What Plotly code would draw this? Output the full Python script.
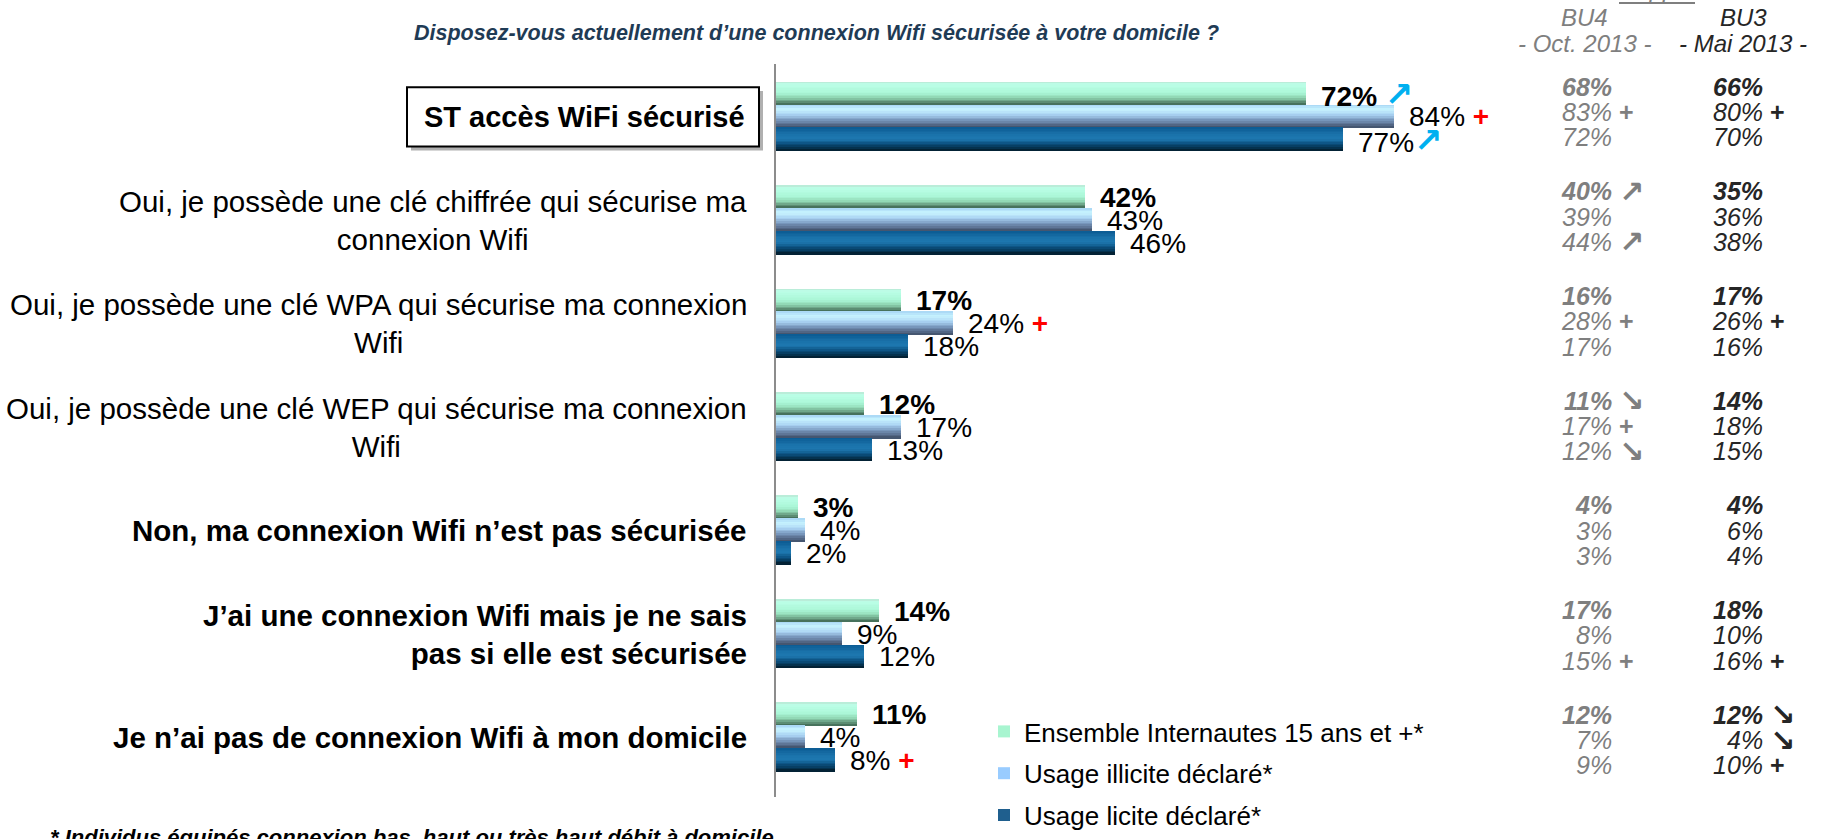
import plotly.graph_objects as go

W, H = 1825, 839

# ---------------- data ----------------
categories = [
    "ST accès WiFi sécurisé",
    "Oui, je possède une clé chiffrée qui sécurise ma<br>connexion Wifi",
    "Oui, je possède une clé WPA qui sécurise ma connexion<br>Wifi",
    "Oui, je possède une clé WEP qui sécurise ma connexion<br>Wifi",
    "Non, ma connexion Wifi n’est pas sécurisée",
    "J’ai une connexion Wifi mais je ne sais<br>pas si elle est sécurisée",
    "Je n’ai pas de connexion Wifi à mon domicile",
]
series_names = ["Ensemble Internautes 15 ans et +*", "Usage illicite déclaré*", "Usage licite déclaré*"]

ensemble = [72, 42, 17, 12, 3, 14, 11]
illicite = [84, 43, 24, 17, 4, 9, 4]
licite = [77, 46, 18, 13, 2, 12, 8]

sym_ensemble = ["↗", "", "", "", "", "", ""]
sym_illicite = ["+", "", "+", "", "", "", ""]
sym_licite = ["↗", "", "", "", "", "", "+"]

bu4_ensemble = [68, 40, 16, 11, 4, 17, 12]
bu4_illicite = [83, 39, 28, 17, 3, 8, 7]
bu4_licite = [72, 44, 17, 12, 3, 15, 9]
bu4_sym_ensemble = ["", "↗", "", "↘", "", "", ""]
bu4_sym_illicite = ["+", "", "+", "+", "", "", ""]
bu4_sym_licite = ["", "↗", "", "↘", "", "+", ""]

bu3_ensemble = [66, 35, 17, 14, 4, 18, 12]
bu3_illicite = [80, 36, 26, 18, 6, 10, 4]
bu3_licite = [70, 38, 16, 15, 4, 16, 10]
bu3_sym_ensemble = ["", "", "", "", "", "", "↘"]
bu3_sym_illicite = ["+", "", "+", "", "", "", "↘"]
bu3_sym_licite = ["", "", "", "", "", "+", "+"]

title_text = "Disposez-vous actuellement d’une connexion Wifi sécurisée à votre domicile ?"
footnote_text = "* Individus équipés connexion bas, haut ou très haut débit à domicile"
bu4_header = ["BU4", "- Oct. 2013 -"]
bu3_header = ["BU3", "- Mai 2013 -"]
rappel_text = "Rappel"

# ---------------- styles ----------------
FONT = "Liberation Sans, Arial, sans-serif"
label_bold = [True, False, False, False, True, True, True]
label_align = ["center", "center", "center", "center", "right", "right", "right"]
legend_colors = ["#A8F5D0", "#99CCFF", "#1F5F8E"]
gradients = [
    [(0.0, "#b9e6d2"), (0.12, "#bcffe8"), (0.5, "#aaf6d6"), (0.7, "#8fd6b2"), (0.86, "#669a7e"), (1.0, "#3d6450")],
    [(0.0, "#a6d4f4"), (0.2, "#c8f4ff"), (0.45, "#a9d2f2"), (0.65, "#7c9cc2"), (0.85, "#5a7090"), (1.0, "#3e4e66")],
    [(0.0, "#0b5a92"), (0.3, "#1a72aa"), (0.5, "#1e78b0"), (0.7, "#0c5282"), (0.86, "#06395a"), (1.0, "#021a28")],
]
sym_colors_bar = {"↗": "#00B0F0", "+": "#FF0000", "↘": "#00B0F0"}


def px(x):
    return x / W


def py(y):
    return 1 - y / H


def hex2rgb(h):
    h = h.lstrip("#")
    return tuple(int(h[i:i + 2], 16) for i in (0, 2, 4))


def interp(stops, t):
    for (t0, c0), (t1, c1) in zip(stops[:-1], stops[1:]):
        if t0 <= t <= t1:
            f = (t - t0) / (t1 - t0) if t1 > t0 else 0
            a, b = hex2rgb(c0), hex2rgb(c1)
            r = [round(a[k] + (b[k] - a[k]) * f) for k in range(3)]
            return "rgb(%d,%d,%d)" % tuple(r)
    return stops[-1][1]


values = [ensemble, illicite, licite]
bar_syms = [sym_ensemble, sym_illicite, sym_licite]
ypos = list(range(len(categories)))

BAR_H = 0.2213
N_STRIPES = 14

fig = go.Figure()
for s, vals in enumerate(values):
    start = -1.5 * BAR_H + s * BAR_H
    fig.add_trace(go.Bar(
        x=vals, y=ypos, orientation="h", name=series_names[s],
        offset=start, width=BAR_H, marker=dict(color=legend_colors[s], line=dict(width=0)),
        legendgroup=str(s), showlegend=True, hoverinfo="skip",
    ))
    for k in range(N_STRIPES):
        t = (k + 0.5) / N_STRIPES
        fig.add_trace(go.Bar(
            x=vals, y=ypos, orientation="h",
            offset=start + k * BAR_H / N_STRIPES, width=BAR_H / N_STRIPES + 0.002,
            marker=dict(color=interp(gradients[s], t), line=dict(width=0)),
            legendgroup=str(s), showlegend=False, hoverinfo="skip",
        ))

annotations = []

# bar value labels
for s, vals in enumerate(values):
    start = -1.5 * BAR_H + s * BAR_H
    for i, v in enumerate(vals):
        txt = ("<b>%d%%</b>" % v) if s == 0 else ("%d%%" % v)
        sym = bar_syms[s][i]
        if sym:
            sp = "" if (s == 2 and sym == "↗") else " "
            if sym == "+":
                txt += sp + "<span style='color:%s;font-weight:bold'>+</span>" % sym_colors_bar[sym]
            else:
                txt += sp + ("<span style='color:%s;font-family:DejaVu Sans;font-weight:bold;"
                             "font-size:34px'>%s</span>") % (sym_colors_bar[sym], sym)
        annotations.append(dict(
            x=v, y=i + start + BAR_H / 2, xref="x", yref="y", text=txt, showarrow=False,
            xanchor="left", yanchor="middle", xshift=13,
            font=dict(family=FONT, size=28, color="#000000"),
        ))

# category labels
for i, cat in enumerate(categories):
    if i == 0:
        annotations.append(dict(
            x=px(584), y=i, xref="paper", yref="y", text="<b>%s</b>" % cat, showarrow=False,
            xanchor="center", yanchor="middle",
            font=dict(family=FONT, size=29, color="#000000"),
        ))
        continue
    txt = "<b>%s</b>" % cat if label_bold[i] else cat
    annotations.append(dict(
        x=px(749), y=i, xref="paper", yref="y", text=txt, showarrow=False,
        xanchor="right", yanchor="middle", align=label_align[i],
        font=dict(family=FONT, size=29.5, color="#000000"),
    ))

# reminder columns (BU4 / BU3): rows positioned in pixels per group
ROW_Y0 = [87.5, 113.0, 138.5]
GROUP_STEP = 105.7
cols = [
    (1614, 1617, "#7F7F7F", [bu4_ensemble, bu4_illicite, bu4_licite],
     [bu4_sym_ensemble, bu4_sym_illicite, bu4_sym_licite]),
    (1765, 1768, "#262626", [bu3_ensemble, bu3_illicite, bu3_licite],
     [bu3_sym_ensemble, bu3_sym_illicite, bu3_sym_licite]),
]
for xr, xs, col, arrs, syms in cols:
    for s in range(3):
        for i in range(len(categories)):
            yy = py(ROW_Y0[s] + GROUP_STEP * i)
            annotations.append(dict(
                x=px(xr), y=yy, xref="paper", yref="paper",
                text="%d%%" % arrs[s][i], showarrow=False, xanchor="right", yanchor="middle",
                font=dict(family=FONT, size=25, color=col, style="italic",
                          weight="bold" if s == 0 else "normal"),
            ))
            sym = syms[s][i]
            if sym:
                if sym == "+":
                    f = dict(family=FONT, size=25, color=col, weight="bold")
                else:
                    f = dict(family="DejaVu Sans", size=30, color=col, weight="bold")
                annotations.append(dict(
                    x=px(xs), y=yy, xref="paper", yref="paper", text=sym,
                    showarrow=False, xanchor="left", yanchor="middle", font=f,
                ))

# headers
for cx, col, lines in [(1584, "#7F7F7F", bu4_header), (1743, "#262626", bu3_header)]:
    for j, t in enumerate(lines):
        annotations.append(dict(
            x=px(cx), y=py(18 + 26 * j), xref="paper", yref="paper", text=t, showarrow=False,
            xanchor="center", yanchor="middle",
            font=dict(family=FONT, size=24, color=col, style="italic"),
        ))
annotations.append(dict(
    x=px(1657), y=py(4), xref="paper", yref="paper", text=rappel_text, showarrow=False,
    xanchor="center", yanchor="bottom",
    font=dict(family=FONT, size=24, color="#7F7F7F", style="italic"),
))

# title and footnote
annotations.append(dict(
    x=px(412), y=py(33), xref="paper", yref="paper", text=title_text, showarrow=False,
    xanchor="left", yanchor="middle",
    font=dict(family=FONT, size=21.5, color="#1F3B55", style="italic", weight="bold"),
))
annotations.append(dict(
    x=px(48), y=py(846), xref="paper", yref="paper", text=footnote_text, showarrow=False,
    xanchor="left", yanchor="middle",
    font=dict(family=FONT, size=22, color="#000000", style="italic", weight="bold"),
))

shapes = [
    dict(type="rect", xref="paper", yref="paper", x0=px(411), x1=px(763), y0=py(152), y1=py(92),
         line=dict(width=0), fillcolor="#B0B0B0", layer="below"),
    dict(type="rect", xref="paper", yref="paper", x0=px(407), x1=px(759), y0=py(148), y1=py(88),
         line=dict(width=2, color="#000000"), fillcolor="#FFFFFF", layer="below"),
    dict(type="line", xref="paper", yref="paper", x0=px(1619), x1=px(1695), y0=py(3), y1=py(3),
         line=dict(width=2, color="#7F7F7F")),
]

fig.update_layout(
    width=W, height=H, autosize=False,
    margin=dict(l=0, r=0, t=0, b=0),
    paper_bgcolor="#FFFFFF", plot_bgcolor="#FFFFFF",
    barmode="overlay", bargap=0,
    font=dict(family=FONT, color="#000000"),
    xaxis=dict(domain=[px(776), px(1512)], range=[0, 100], visible=False, fixedrange=True),
    yaxis=dict(domain=[py(805), py(65)], range=[6.578, -0.508], showticklabels=False,
               showgrid=False, zeroline=False, showline=True, linecolor="#8C8C8C", linewidth=2,
               ticks="", fixedrange=True),
    legend=dict(x=px(984), y=py(715), xanchor="left", yanchor="top",
                font=dict(family=FONT, size=26, color="#000000"), tracegroupgap=5,
                bgcolor="rgba(0,0,0,0)", traceorder="grouped"),
    annotations=annotations, shapes=shapes, showlegend=True,
)

fig.write_html("out.html", config={"displayModeBar": False},
               post_script="document.body.style.margin='0';document.body.style.overflow='hidden';")
